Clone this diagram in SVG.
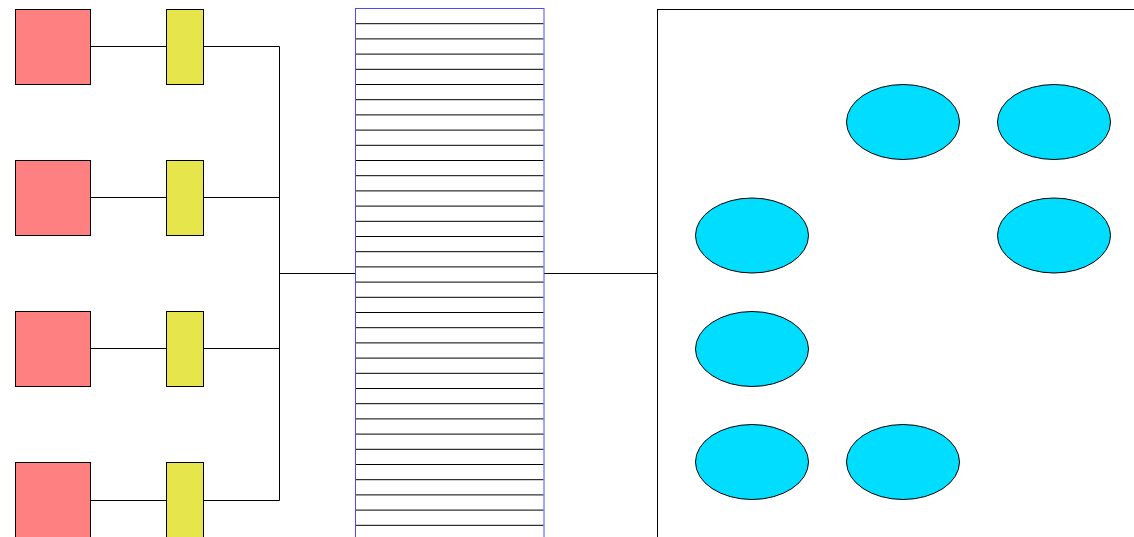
<svg xmlns="http://www.w3.org/2000/svg" width="1134" height="537" viewBox="0 0 1134 537">
<style>
.red{fill:#FF8080;stroke:#000;stroke-width:1}
.yel{fill:#E6E64C;stroke:#000;stroke-width:1}
.ell{fill:#00DDFF;stroke:#000;stroke-width:1}
.ln{fill:none;stroke:#000;stroke-width:1}
.rung{stroke:#000;stroke-width:1}
</style>
<rect width="1134" height="537" fill="#fff"/>
<g id="connectors">
<path class="ln" d="M90.5 46.5H166M204 46.5H279.5V500.5H204M90.5 197.5H166M204 197.5H279.5M90.5 348.5H166M204 348.5H279.5M90.5 500.5H166M279.5 273.5H355M544 273.5H657.5"/>
</g>
<g id="sources">
<rect id="s1" class="red" x="15.5" y="9.5" width="75" height="75"/>
<rect id="s2" class="red" x="15.5" y="160.5" width="75" height="75"/>
<rect id="s3" class="red" x="15.5" y="311.5" width="75" height="75"/>
<rect id="s4" class="red" x="15.5" y="462.5" width="75" height="75"/>
</g>
<g id="adapters">
<rect id="a1" class="yel" x="166.5" y="9.5" width="37" height="75"/>
<rect id="a2" class="yel" x="166.5" y="160.5" width="37" height="75"/>
<rect id="a3" class="yel" x="166.5" y="311.5" width="37" height="75"/>
<rect id="a4" class="yel" x="166.5" y="462.5" width="37" height="75"/>
</g>
<g id="bus">
<rect x="355.5" y="8.5" width="188.5" height="540" fill="#fff"/>
<g class="rung">
<line x1="356" x2="543.5" y1="23.7" y2="23.7"/><line x1="356" x2="543.5" y1="38.9" y2="38.9"/><line x1="356" x2="543.5" y1="54.1" y2="54.1"/><line x1="356" x2="543.5" y1="69.3" y2="69.3"/><line x1="356" x2="543.5" y1="84.5" y2="84.5"/><line x1="356" x2="543.5" y1="99.7" y2="99.7"/><line x1="356" x2="543.5" y1="114.9" y2="114.9"/><line x1="356" x2="543.5" y1="130.1" y2="130.1"/><line x1="356" x2="543.5" y1="145.3" y2="145.3"/><line x1="356" x2="543.5" y1="160.5" y2="160.5"/><line x1="356" x2="543.5" y1="175.7" y2="175.7"/><line x1="356" x2="543.5" y1="190.9" y2="190.9"/><line x1="356" x2="543.5" y1="206.1" y2="206.1"/><line x1="356" x2="543.5" y1="221.3" y2="221.3"/><line x1="356" x2="543.5" y1="236.5" y2="236.5"/><line x1="356" x2="543.5" y1="251.7" y2="251.7"/><line x1="356" x2="543.5" y1="266.9" y2="266.9"/><line x1="356" x2="543.5" y1="282.1" y2="282.1"/><line x1="356" x2="543.5" y1="297.3" y2="297.3"/><line x1="356" x2="543.5" y1="312.5" y2="312.5"/><line x1="356" x2="543.5" y1="327.7" y2="327.7"/><line x1="356" x2="543.5" y1="342.9" y2="342.9"/><line x1="356" x2="543.5" y1="358.1" y2="358.1"/><line x1="356" x2="543.5" y1="373.3" y2="373.3"/><line x1="356" x2="543.5" y1="388.5" y2="388.5"/><line x1="356" x2="543.5" y1="403.7" y2="403.7"/><line x1="356" x2="543.5" y1="418.9" y2="418.9"/><line x1="356" x2="543.5" y1="434.1" y2="434.1"/><line x1="356" x2="543.5" y1="449.3" y2="449.3"/><line x1="356" x2="543.5" y1="464.5" y2="464.5"/><line x1="356" x2="543.5" y1="479.7" y2="479.7"/><line x1="356" x2="543.5" y1="494.9" y2="494.9"/><line x1="356" x2="543.5" y1="510.1" y2="510.1"/><line x1="356" x2="543.5" y1="525.3" y2="525.3"/>
</g>
<rect x="355.5" y="8.5" width="188.5" height="540" fill="none" stroke="#4A4AFF" stroke-width="1"/>
</g>
<g id="cluster">
<rect x="657.5" y="9.5" width="500" height="540" fill="#fff" stroke="#000" stroke-width="1"/>
<ellipse id="e1" class="ell" cx="903" cy="122" rx="56.5" ry="37.5"/>
<ellipse id="e2" class="ell" cx="1054" cy="122" rx="56.5" ry="37.5"/>
<ellipse id="e3" class="ell" cx="752" cy="235.5" rx="56.5" ry="37.5"/>
<ellipse id="e4" class="ell" cx="1054" cy="235.5" rx="56.5" ry="37.5"/>
<ellipse id="e5" class="ell" cx="752" cy="349" rx="56.5" ry="37.5"/>
<ellipse id="e6" class="ell" cx="752" cy="462" rx="56.5" ry="37.5"/>
<ellipse id="e7" class="ell" cx="903" cy="462" rx="56.5" ry="37.5"/>
</g>
</svg>
